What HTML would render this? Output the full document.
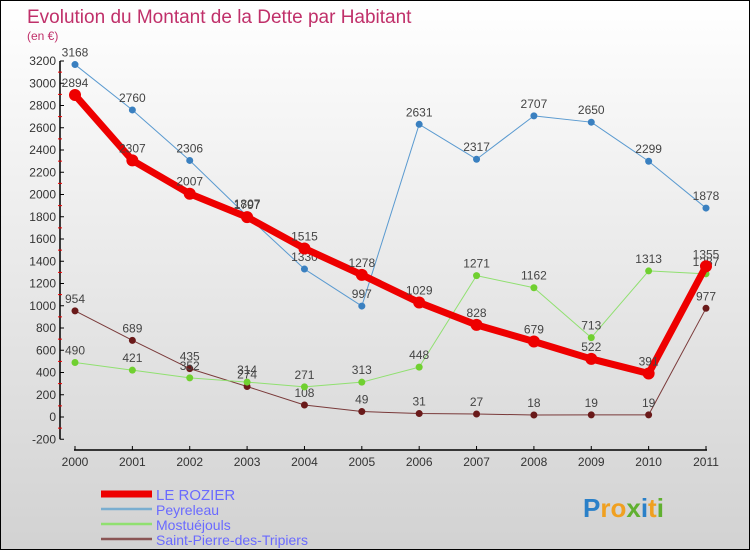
<!DOCTYPE html>
<html><head><meta charset="utf-8">
<style>
body{margin:0;}
#wrap{position:relative;width:748px;height:548px;border:1px solid #000;background:linear-gradient(#ffffff,#d2d2d2);font-family:"Liberation Sans",sans-serif;overflow:hidden;}
svg{position:absolute;left:0;top:0;}
</style></head><body>
<div id="wrap">
<svg id="chart" width="748" height="548"></svg>
</div>
<script>
const years=["2000","2001","2002","2003","2004","2005","2006","2007","2008","2009","2010","2011"];
const yTicks=[-200,0,200,400,600,800,1000,1200,1400,1600,1800,2000,2200,2400,2600,2800,3000,3200];
const rozier=[2894,2307,2007,1797,1515,1278,1029,828,679,522,391,1355];
const peyreleau=[3168,2760,2306,1807,1330,997,2631,2317,2707,2650,2299,1878];
const mostuejouls=[490,421,352,314,271,313,448,1271,1162,713,1313,1287];
const saintPierre=[954,689,435,274,108,49,31,27,18,19,19,977];
const seriesNames=["LE ROZIER","Peyreleau","Mostuéjouls","Saint-Pierre-des-Tripiers"];

const NS="http://www.w3.org/2000/svg";
const svg=document.getElementById('chart');
function el(t,a,p){const e=document.createElementNS(NS,t);for(const k in a)e.setAttribute(k,a[k]);(p||svg).appendChild(e);return e;}
const X=i=>74+i*(705-74)/11;
const Y=v=>416-v*(356/3200);

let t=el('text',{x:26,y:22,fill:'#c0306a','font-size':19});t.textContent="Evolution du Montant de la Dette par Habitant";

t=el('text',{x:26,y:39,fill:'#c0306a','font-size':12});t.textContent="(en €)";


let ya=el('line',{x1:59,y1:Y(3200),x2:59,y2:Y(-200),stroke:'#000','stroke-width':1.5});

yTicks.forEach((v,i)=>{
  el('line',{x1:59,y1:Y(v),x2:63,y2:Y(v),stroke:'#000'});
  if(i<yTicks.length-1) el('line',{x1:57,y1:Y(v+100),x2:61,y2:Y(v+100),stroke:'#e00'});
  const tx=el('text',{x:55,y:Y(v)+4,'text-anchor':'end','font-size':12,fill:'#333'});tx.textContent=v;
  
});
let xa=el('line',{x1:X(0)-1,y1:449,x2:X(11)+1,y2:449,stroke:'#000','stroke-width':1.5});

years.forEach((y,i)=>{
  el('line',{x1:X(i),y1:445,x2:X(i),y2:449,stroke:'#000'});
  const tx=el('text',{x:X(i),y:465,'text-anchor':'middle','font-size':12,fill:'#333'});tx.textContent=y;
  
});

function series(data,color,w,r,name,dot){
  const g=el('g',{});
  
  el('polyline',{points:data.map((v,i)=>X(i)+','+Y(v)).join(' '),fill:'none',stroke:color,'stroke-width':w,'stroke-linejoin':'round'},g);
  data.forEach((v,i)=>{
    const c=el('circle',{cx:X(i),cy:Y(v),r:r,fill:dot},g);
    
    const tx=el('text',{x:X(i),y:Y(v)-8,'text-anchor':'middle','font-size':12,fill:'#444'},g);tx.textContent=v;
    
  });
}
series(saintPierre,'#7a3a3a',1,3.5,'saint-pierre-series','#6a1a1a');
series(mostuejouls,'#90e070',1,3.5,'mostuejouls-series','#70d030');
series(peyreleau,'#5a9ad0',1,3.5,'peyreleau-series','#3a80c0');
series(rozier,'#ee0000',7,6,'le-rozier-series','#ee0000');

const lc=['#ee0000','#7aaed0','#90e070','#8a5555'];
const lw=[7,2.5,2.5,2.5];
seriesNames.forEach((n,i)=>{
  const y=493+i*15;
  const g=el('g',{});
  el('line',{x1:100,y1:y,x2:151,y2:y,stroke:lc[i],'stroke-width':lw[i]},g);
  const tx=el('text',{x:155,y:y+6,'font-size':i==0?15:14,fill:'#6a6aff'},g);tx.textContent=n;
});
const lg=el('text',{x:582,y:516,'font-size':26,'font-weight':'bold',fill:'#3a90d0'});

[['P','#2a80c8'],['ro','#f0a020'],['x','#60b030'],['i','#2a80c8'],['t','#f0a020'],['i','#60b030']].forEach(([s,c])=>{const sp=el('tspan',{fill:c},lg);sp.textContent=s;});
</script>
</body></html>
